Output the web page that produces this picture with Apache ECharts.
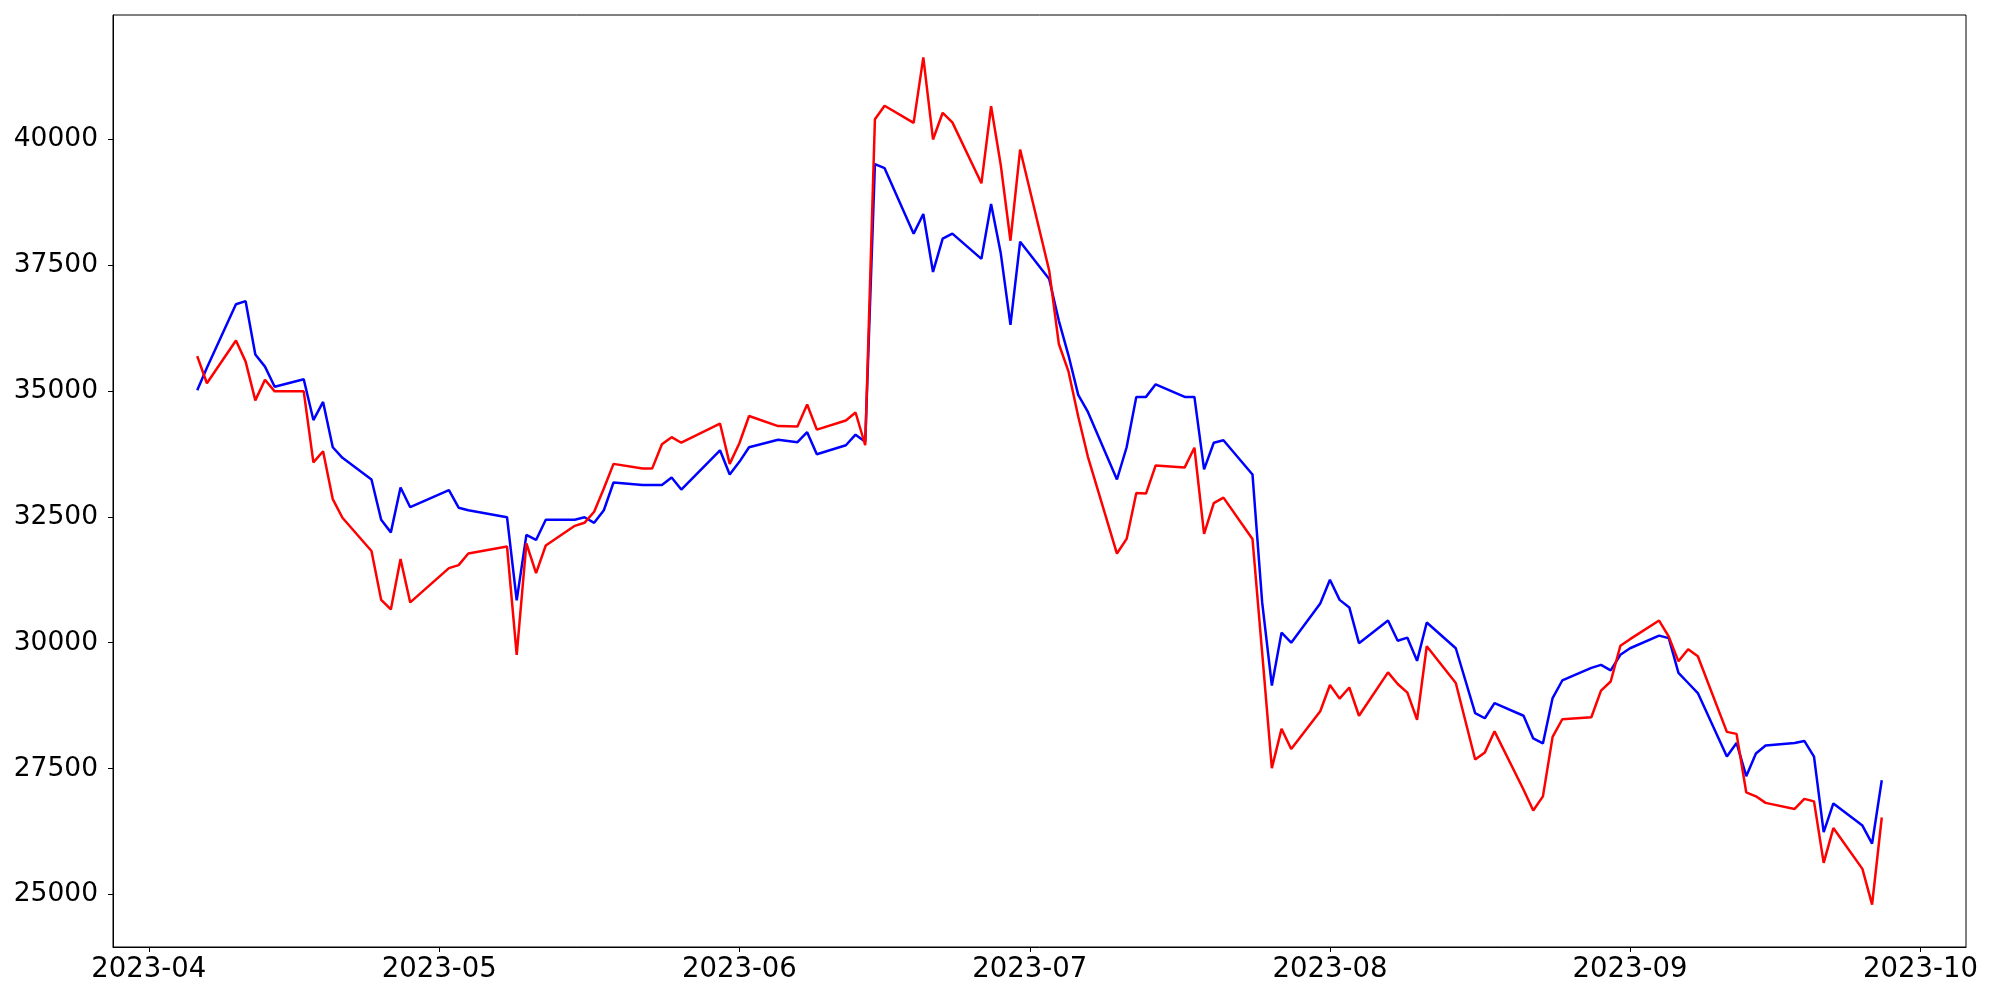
<!DOCTYPE html>
<html>
<head>
<meta charset="utf-8">
<title>chart</title>
<script src="https://cdn.jsdelivr.net/npm/echarts@6/dist/echarts.min.js"></script>
<style>
  html, body { margin: 0; padding: 0; background: #fff; }
  #chart { width: 2000px; height: 1000px; }
</style>
</head>
<body>
<div id="chart"></div>
<script>
// trading days
const dates = [
  '2023-04-06', '2023-04-07', '2023-04-10', '2023-04-11', '2023-04-12', '2023-04-13', '2023-04-14',
  '2023-04-17', '2023-04-18', '2023-04-19', '2023-04-20', '2023-04-21',
  '2023-04-24', '2023-04-25', '2023-04-26', '2023-04-27', '2023-04-28',
  '2023-05-02', '2023-05-03', '2023-05-04', '2023-05-08', '2023-05-09', '2023-05-10', '2023-05-11', '2023-05-12',
  '2023-05-15', '2023-05-16', '2023-05-17', '2023-05-18', '2023-05-19',
  '2023-05-22', '2023-05-23', '2023-05-24', '2023-05-25', '2023-05-26', '2023-05-30', '2023-05-31',
  '2023-06-01', '2023-06-02', '2023-06-05', '2023-06-07', '2023-06-08', '2023-06-09',
  '2023-06-12', '2023-06-13', '2023-06-14', '2023-06-15', '2023-06-16',
  '2023-06-19', '2023-06-20', '2023-06-21', '2023-06-22', '2023-06-23',
  '2023-06-26', '2023-06-27', '2023-06-28', '2023-06-29', '2023-06-30',
  '2023-07-03', '2023-07-04', '2023-07-05', '2023-07-06', '2023-07-07',
  '2023-07-10', '2023-07-11', '2023-07-12', '2023-07-13', '2023-07-14',
  '2023-07-17', '2023-07-18', '2023-07-19', '2023-07-20', '2023-07-21',
  '2023-07-24', '2023-07-25', '2023-07-26', '2023-07-27', '2023-07-28', '2023-07-31',
  '2023-08-01', '2023-08-02', '2023-08-03', '2023-08-04',
  '2023-08-07', '2023-08-08', '2023-08-09', '2023-08-10', '2023-08-11',
  '2023-08-14', '2023-08-16', '2023-08-17', '2023-08-18',
  '2023-08-21', '2023-08-22', '2023-08-23', '2023-08-24', '2023-08-25',
  '2023-08-28', '2023-08-29', '2023-08-30', '2023-08-31', '2023-09-01',
  '2023-09-04', '2023-09-05', '2023-09-06', '2023-09-07', '2023-09-08',
  '2023-09-11', '2023-09-12', '2023-09-13', '2023-09-14', '2023-09-15',
  '2023-09-18', '2023-09-19', '2023-09-20', '2023-09-21', '2023-09-22',
  '2023-09-25', '2023-09-26', '2023-09-27'
];

const redValues = [
  35690, 35150, 36000, 35580, 34810, 35220, 34990, 34990, 33580, 33800, 32850, 32480,
  31820, 30850, 30660, 31660, 30800,
  31480, 31540, 31770, 31910, 29760, 31970, 31380, 31930, 32320, 32380, 32600, 33060, 33550,
  33460, 33460, 33940, 34080, 33970, 34350, 33550,
  33960, 34500, 34300, 34290, 34730, 34230, 34410, 34570, 33920, 40390, 40660,
  40320, 41620, 39990, 40520, 40330, 39120, 40650, 39480, 37980, 39790,
  37390, 35930, 35380, 34490, 33690, 31770, 32060, 32970, 32960, 33520,
  33480, 33870, 32160, 32770, 32880, 32060, 29800, 27510, 28290, 27890, 28640,
  29160, 28890, 29110, 28550, 29410, 29180, 29010, 28470, 29930,
  29200, 27680, 27820, 28240, 27080, 26670, 26950, 28130, 28480,
  28520, 29050, 29230, 29940, 30070,
  30440, 30120, 29630, 29870, 29730, 28230, 28190, 27030, 26950, 26820,
  26700, 26900, 26850, 25630, 26320, 25510, 24800, 26530
];

const blueValues = [
  35010, 35460, 36720, 36780, 35720, 35480, 35080, 35230, 34420, 34780, 33880, 33670,
  33240, 32440, 32190, 33080, 32690,
  33030, 32680, 32630, 32490, 30840, 32140, 32040, 32440, 32440, 32490, 32380, 32630, 33180,
  33130, 33130, 33130, 33280, 33040, 33820, 33340,
  33590, 33880, 34030, 33980, 34180, 33740, 33920, 34130, 33990, 39500, 39420,
  38120, 38510, 37360, 38020, 38120, 37620, 38710, 37730, 36310, 37960,
  37220, 36390, 35700, 34920, 34580, 33240, 33880, 34880, 34880, 35130,
  34880, 34880, 33440, 33970, 34020, 33340, 30800, 29150, 30200, 30000, 30780,
  31250, 30850, 30700, 29990, 30440, 30040, 30100, 29640, 30400,
  29890, 28600, 28500, 28800, 28550, 28100, 28000, 28900, 29250,
  29500, 29560, 29450, 29760, 29890,
  30140, 30090, 29400, 29200, 29000, 27740, 28010, 27350, 27800, 27960,
  28010, 28050, 27740, 26240, 26810, 26370, 26010, 27270
];

const monthTicks = ['2023-04-01', '2023-05-01', '2023-06-01', '2023-07-01', '2023-08-01', '2023-09-01', '2023-10-01'];
const yTicks = [25000, 27500, 30000, 32500, 35000, 37500, 40000];

function toTime(s) {
  const p = s.split('-');
  return new Date(+p[0], +p[1] - 1, +p[2]).getTime();
}

const monthValues = monthTicks.map(toTime);
const redData = dates.map((d, i) => [toTime(d), redValues[i]]);
const blueData = dates.map((d, i) => [toTime(d), blueValues[i]]);

// matplotlib-like 5% margins
function padMin(v) { return v.min - (v.max - v.min) * 0.05; }
function padMax(v) { return v.max + (v.max - v.min) * 0.05; }

const font = 'DejaVu Sans';
const chart = echarts.init(document.getElementById('chart'));
chart.setOption({
  animation: false,
  backgroundColor: '#ffffff',
  grid: {
    left: 113,
    right: 34,
    top: 15,
    bottom: 53,
    show: true,
    borderColor: '#000',
    borderWidth: 1,
    backgroundColor: 'transparent'
  },
  xAxis: {
    type: 'value',
    scale: true,
    min: padMin,
    max: padMax,
    axisLine: { show: true, onZero: false, lineStyle: { color: '#000', width: 1 } },
    axisTick: { show: true, inside: false, length: 5, customValues: monthValues, lineStyle: { color: '#000', width: 1 } },
    axisLabel: {
      customValues: monthValues,
      margin: 9,
      color: '#000',
      fontFamily: font,
      fontSize: 27.5,
      formatter: function (v) {
        const d = new Date(v);
        return d.getFullYear() + '-' + String(d.getMonth() + 1).padStart(2, '0');
      }
    },
    splitLine: { show: false }
  },
  yAxis: {
    type: 'value',
    scale: true,
    min: padMin,
    max: padMax,
    axisLine: { show: true, onZero: false, lineStyle: { color: '#000', width: 1 } },
    axisTick: { show: true, inside: false, length: 5, customValues: yTicks, lineStyle: { color: '#000', width: 1 } },
    axisLabel: {
      customValues: yTicks,
      margin: 15,
      color: '#000',
      fontFamily: font,
      fontSize: 26.5,
      formatter: function (v) { return String(v); }
    },
    splitLine: { show: false }
  },
  series: [
    {
      type: 'line',
      data: blueData,
      symbol: 'none',
      lineStyle: { color: '#0000ff', width: 2.5 },
      itemStyle: { color: '#0000ff' }
    },
    {
      type: 'line',
      data: redData,
      symbol: 'none',
      lineStyle: { color: '#ff0000', width: 2.5 },
      itemStyle: { color: '#ff0000' }
    }
  ]
});
</script>
</body>
</html>
